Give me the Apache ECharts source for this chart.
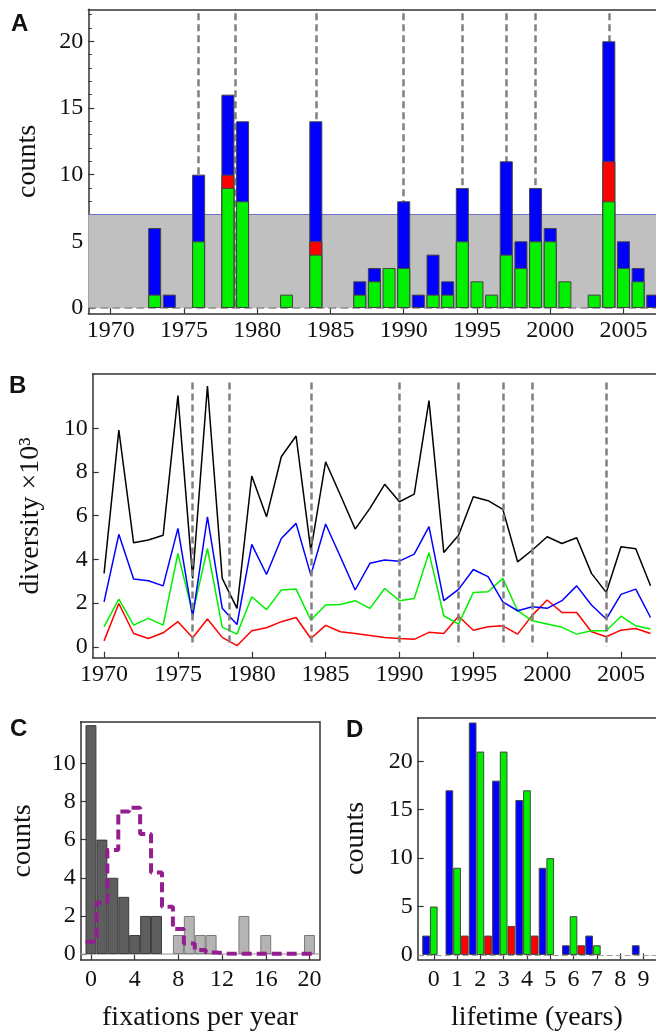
<!DOCTYPE html>
<html>
<head>
<meta charset="utf-8">
<script src="https://cdn.jsdelivr.net/npm/echarts@6/dist/echarts.min.js"></script>
<style>
html, body { margin: 0; padding: 0; background: #fff; }
#chart { width: 656px; height: 1035px; }
</style>
</head>
<body>
<div id="chart"></div>
<script>
// A: counts per year (green / red / blue parts of each stacked bar)
var yearsA = [1970, 1971, 1972, 1973, 1974, 1975, 1976, 1977, 1978, 1979,
              1980, 1981, 1982, 1983, 1984, 1985, 1986, 1987, 1988, 1989,
              1990, 1991, 1992, 1993, 1994, 1995, 1996, 1997, 1998, 1999,
              2000, 2001, 2002, 2003, 2004, 2005, 2006, 2007];
var greenA = [0, 0, 0, 1, 0, 0, 5, 0, 9, 8,  0, 0, 1, 0, 4, 0, 0, 1, 2, 3,
              3, 0, 1, 1, 5, 2, 1, 4, 3, 5,  5, 2, 0, 1, 8, 3, 2, 0];
var redA   = [0, 0, 0, 0, 0, 0, 0, 0, 1, 0,  0, 0, 0, 0, 1, 0, 0, 0, 0, 0,
              0, 0, 0, 0, 0, 0, 0, 0, 0, 0,  0, 0, 0, 0, 3, 0, 0, 0];
var blueA  = [0, 0, 0, 5, 1, 0, 5, 0, 6, 6,  0, 0, 0, 0, 9, 0, 0, 1, 1, 0,
              5, 1, 3, 1, 4, 0, 0, 7, 2, 4,  1, 0, 0, 0, 9, 2, 1, 1];
var thresholdA = 7;
var eventYears = [1976, 1978.5, 1984, 1990, 1994, 1997, 1999, 2004];
var yearTicks = [1970, 1975, 1980, 1985, 1990, 1995, 2000, 2005];
var countTicksA = [0, 5, 10, 15, 20];
var minorTicksA = [0, 1, 2, 3, 4, 5, 6, 7, 8, 9, 10, 11, 12, 13, 14, 15, 16, 17, 18, 19, 20, 21, 22];

// B: diversity x10^3 per year
var yearsB = yearsA;
var totalB = [3.36, 9.92, 4.76, 4.89, 5.11, 11.5, 3.13, 11.94, 3.13, 1.76,
              7.82, 5.95, 8.7, 9.65, 4.4, 8.47, 6.95, 5.39, 6.34, 7.44,
              6.64, 6.99, 11.27, 4.32, 5.11, 6.87, 6.69, 6.29, 3.89, 4.43,
              5.04, 4.73, 4.99, 3.36, 2.49, 4.58, 4.49, 2.79];
var blueB  = [2.06, 5.15, 3.1, 3.02, 2.79, 5.42, 1.37, 5.95, 1.76, 1.02,
              4.69, 3.31, 4.96, 5.65, 3.28, 5.62, 4.12, 2.6, 3.82, 3.97,
              3.92, 4.24, 5.5, 2.11, 2.63, 3.54, 3.21, 2.06, 1.65, 1.83,
              1.76, 2.11, 2.79, 1.91, 1.27, 2.4, 2.64, 1.34];
var greenB = [0.92, 2.18, 0.99, 1.3, 0.99, 4.27, 1.53, 4.5, 0.9, 0.58,
              2.29, 1.7, 2.6, 2.64, 1.22, 1.91, 1.94, 2.11, 1.76, 2.67,
              2.11, 2.21, 4.31, 1.42, 1.04, 2.49, 2.52, 3.13, 1.65, 1.19,
              1.04, 0.89, 0.58, 0.73, 0.73, 1.4, 0.96, 0.81];
var redB   = [0.27, 1.98, 0.61, 0.38, 0.64, 1.15, 0.41, 1.27, 0.43, 0.05,
              0.73, 0.87, 1.15, 1.34, 0.38, 0.98, 0.69, 0.61, 0.52, 0.43,
              0.38, 0.34, 0.66, 0.61, 1.4, 0.76, 0.92, 0.96, 0.58, 1.45,
              2.14, 1.57, 1.57, 0.69, 0.46, 0.76, 0.84, 0.61];
var divTicks = [0, 2, 4, 6, 8, 10];

// C: fixations per year histogram + model
var binsC = [0, 1, 2, 3, 4, 5, 6, 7, 8, 9, 10, 11, 12, 13, 14, 15, 16, 17, 18, 19, 20];
var darkC  = [12, 6, 4, 3, 1, 2, 2, 0, 0, 0, 0, 0, 0, 0, 0, 0, 0, 0, 0, 0, 0];
var lightC = [0, 0, 0, 0, 0, 0, 0, 0, 1, 2, 1, 1, 0, 0, 2, 0, 1, 0, 0, 0, 1];
var modelC = [0.65, 2.69, 5.45, 7.47, 7.67, 6.29, 4.28, 2.48, 1.31, 0.56, 0.21,
              0.08, 0.03, 0.02, 0.02, 0.02, 0.02, 0.02, 0.02, 0.02, 0.02];
var fixTicks = [0, 4, 8, 12, 16, 20];
var countTicksC = [0, 2, 4, 6, 8, 10];

// D: lifetime histogram
var lifeD  = [0, 1, 2, 3, 4, 5, 6, 7, 8, 9];
var blueD  = [2, 17, 24, 18, 16, 9, 1, 2, 0, 1];
var greenD = [5, 9, 21, 21, 17, 10, 4, 1, 0, 0];
var redD   = [0, 2, 2, 3, 2, 0, 1, 0, 0, 0];
var countTicksD = [0, 5, 10, 15, 20];

var ink = '#333';
var serif = 'Liberation Serif';
var cGreen = '#00f000', cBlue = '#0000ff', cRed = '#ff0000';

function pairs(xs, vs) {
    return xs.map(function (x, i) { return [x, vs[i] > 0 ? vs[i] : '-']; });
}
function cumul(lists) {
    return lists[0].map(function (v, i) {
        var s = 0;
        lists.forEach(function (l) { s += l[i]; });
        return s;
    });
}
function onlyWhere(vals, parts) {
    return vals.map(function (v, i) { return parts[i] > 0 ? v : 0; });
}

function mainAxis(o) {
    return Object.assign({
        type: 'value',
        nameLocation: 'middle',
        nameMoveOverlap: false,
        nameTextStyle: { fontFamily: serif, fontSize: 28, color: '#111' },
        axisLine: { show: true, onZero: false, lineStyle: { color: ink, width: 1.5 } },
        axisTick: { show: true, inside: true, length: 6, customValues: o.ticks,
                    lineStyle: { color: ink, width: 1.2 } },
        axisLabel: { show: true, customValues: o.ticks, margin: o.labelMargin || 5,
                     formatter: function (v) { return String(v); },
                     fontFamily: serif, fontSize: 24, color: '#111' },
        splitLine: { show: false }
    }, o);
}
function frameAxis(o) {
    return Object.assign({
        type: 'value',
        axisLine: { show: true, onZero: false, lineStyle: { color: ink, width: 1.5 } },
        axisTick: { show: false }, axisLabel: { show: false }, splitLine: { show: false }
    }, o);
}
function minorAxis(o) {
    return Object.assign({
        type: 'value',
        axisLine: { show: false },
        axisTick: { show: true, inside: true, length: 3.5, customValues: o.ticks,
                    lineStyle: { color: ink, width: 1 } },
        axisLabel: { show: false }, splitLine: { show: false }
    }, o);
}
function eventLines(top) {
    return eventYears.map(function (y) {
        return [{ coord: [y, top] }, { coord: [y, 0] }];
    });
}

var totA = cumul([greenA, redA, blueA]);
var grA = cumul([greenA, redA]);

var chart = echarts.init(document.getElementById('chart'), null, { renderer: 'canvas' });
chart.setOption({
    backgroundColor: '#fff',
    animation: false,
    grid: [
        { left: 88.3, top: 9.3, width: 567.7, height: 304.4, outerBoundsMode: 'none' },
        { left: 92.7, top: 374, width: 563.3, height: 283.7, outerBoundsMode: 'none' },
        { left: 80.7, top: 721.7, width: 238.6, height: 238.3, outerBoundsMode: 'none' },
        { left: 417.7, top: 717.7, width: 238.3, height: 241.6, outerBoundsMode: 'none' }
    ],
    xAxis: [
        mainAxis({ gridIndex: 0, min: 1968.47, max: 2007.22, position: 'bottom', ticks: yearTicks }),
        frameAxis({ gridIndex: 0, min: 1968.47, max: 2007.22, position: 'top' }),
        mainAxis({ gridIndex: 1, min: 1969.23, max: 2007.37, position: 'bottom', ticks: yearTicks }),
        frameAxis({ gridIndex: 1, min: 1969.23, max: 2007.37, position: 'top' }),
        mainAxis({ gridIndex: 2, min: -0.94, max: 20.9, position: 'bottom', ticks: fixTicks,
                   labelMargin: 8, name: 'fixations per year', nameGap: 44 }),
        frameAxis({ gridIndex: 2, min: -0.94, max: 20.9, position: 'top' }),
        mainAxis({ gridIndex: 3, min: -0.69, max: 9.54, position: 'bottom', ticks: lifeD,
                   labelMargin: 8, name: 'lifetime (years)', nameGap: 44 }),
        frameAxis({ gridIndex: 3, min: -0.69, max: 9.54, position: 'top' })
    ],
    yAxis: [
        mainAxis({ gridIndex: 0, min: -0.43, max: 22.4, position: 'left', ticks: countTicksA,
                   name: 'counts', nameGap: 47 }),
        minorAxis({ gridIndex: 0, min: -0.43, max: 22.4, position: 'left', ticks: minorTicksA }),
        mainAxis({ gridIndex: 1, min: -0.5, max: 12.49, position: 'left', ticks: divTicks,
                   name: 'diversity \u00d710\u00b3', nameGap: 48 }),
        mainAxis({ gridIndex: 2, min: -0.31, max: 12.18, position: 'left', ticks: countTicksC,
                   name: 'counts', nameGap: 44 }),
        frameAxis({ gridIndex: 2, min: -0.31, max: 12.18, position: 'right' }),
        mainAxis({ gridIndex: 3, min: -0.45, max: 24.5, position: 'left', ticks: countTicksD,
                   name: 'counts', nameGap: 48 })
    ],
    series: [
        // ---- A ----
        {
            type: 'line', xAxisIndex: 0, yAxisIndex: 0, data: [], z: 1, silent: true,
            markArea: { silent: true, z: 1, itemStyle: { color: '#c0c0c0' },
                        data: [[{ yAxis: 0 }, { yAxis: thresholdA }]] },
            markLine: { silent: true, z: 2, symbol: 'none', label: { show: false },
                        data: [
                            { yAxis: thresholdA, lineStyle: { color: '#6f6fd0', width: 1, type: 'solid' } },
                            { yAxis: 0, lineStyle: { color: '#8a8a8a', width: 1.5, type: [8, 4] } }
                        ] }
        },
        {
            type: 'line', xAxisIndex: 0, yAxisIndex: 0, data: [], z: 2, silent: true,
            markLine: { silent: true, z: 2, symbol: 'none', label: { show: false },
                        lineStyle: { color: '#808080', width: 2.5, type: [7, 4] },
                        data: eventLines(22.1) }
        },
        {
            name: 'blue', type: 'bar', xAxisIndex: 0, yAxisIndex: 0, z: 3,
            barWidth: 13, barGap: '-100%',
            itemStyle: { color: cBlue, borderColor: '#444', borderWidth: 1 },
            data: pairs(yearsA, onlyWhere(totA, blueA))
        },
        {
            name: 'red', type: 'bar', xAxisIndex: 0, yAxisIndex: 0, z: 3,
            barWidth: 13, barGap: '-100%',
            itemStyle: { color: cRed, borderColor: '#444', borderWidth: 1 },
            data: pairs(yearsA, onlyWhere(grA, redA))
        },
        {
            name: 'green', type: 'bar', xAxisIndex: 0, yAxisIndex: 0, z: 3,
            barWidth: 13, barGap: '-100%',
            itemStyle: { color: cGreen, borderColor: '#444', borderWidth: 1 },
            data: pairs(yearsA, greenA)
        },
        // ---- B ----
        {
            type: 'line', xAxisIndex: 2, yAxisIndex: 2, showSymbol: false, z: 3,
            lineStyle: { color: cRed, width: 1.5 },
            data: yearsB.map(function (y, i) { return [y, redB[i]]; })
        },
        {
            type: 'line', xAxisIndex: 2, yAxisIndex: 2, showSymbol: false, z: 3,
            lineStyle: { color: cGreen, width: 1.5 },
            data: yearsB.map(function (y, i) { return [y, greenB[i]]; })
        },
        {
            type: 'line', xAxisIndex: 2, yAxisIndex: 2, showSymbol: false, z: 3,
            lineStyle: { color: cBlue, width: 1.5 },
            data: yearsB.map(function (y, i) { return [y, blueB[i]]; })
        },
        {
            type: 'line', xAxisIndex: 2, yAxisIndex: 2, showSymbol: false, z: 3,
            lineStyle: { color: '#000', width: 1.5 },
            data: yearsB.map(function (y, i) { return [y, totalB[i]]; })
        },
        {
            type: 'line', xAxisIndex: 2, yAxisIndex: 2, data: [], z: 4, silent: true,
            markLine: { silent: true, z: 5, symbol: 'none', label: { show: false },
                        lineStyle: { color: '#808080', width: 2.5, type: [7, 4] },
                        data: eventLines(12.1) }
        },
        // ---- C ----
        {
            type: 'line', xAxisIndex: 4, yAxisIndex: 3, data: [], z: 1, silent: true,
            markLine: { silent: true, z: 1, symbol: 'none', label: { show: false },
                        lineStyle: { color: '#b8b8b8', width: 1.5, type: 'solid' },
                        data: [{ yAxis: 0 }] }
        },
        {
            type: 'bar', xAxisIndex: 4, yAxisIndex: 3, z: 2, barWidth: 10.9, barGap: '-100%',
            itemStyle: { color: '#5e5e5e', borderColor: '#3a3a3a', borderWidth: 1 },
            data: pairs(binsC, darkC)
        },
        {
            type: 'bar', xAxisIndex: 4, yAxisIndex: 3, z: 2, barWidth: 10.9, barGap: '-100%',
            itemStyle: { color: '#b4b4b4', borderColor: '#7a7a7a', borderWidth: 1 },
            data: pairs(binsC, lightC)
        },
        {
            type: 'line', xAxisIndex: 4, yAxisIndex: 3, z: 4, step: 'end', showSymbol: false,
            lineStyle: { color: '#941d8f', width: 4, type: [10, 5] },
            data: binsC.map(function (b, i) { return [b - 0.5, modelC[i]]; })
                .concat([[binsC[binsC.length - 1] + 0.5, modelC[modelC.length - 1]]])
        },
        // ---- D ----
        {
            type: 'line', xAxisIndex: 6, yAxisIndex: 5, data: [], z: 1, silent: true,
            markLine: { silent: true, z: 1, symbol: 'none', label: { show: false },
                        lineStyle: { color: '#a0a0a0', width: 1.2, type: [6, 3] },
                        data: [{ yAxis: 0 }] }
        },
        {
            type: 'bar', xAxisIndex: 6, yAxisIndex: 5, z: 2, barWidth: 7.7, barGap: '0%',
            itemStyle: { color: cBlue, borderColor: '#444', borderWidth: 1 },
            data: pairs(lifeD, blueD)
        },
        {
            type: 'bar', xAxisIndex: 6, yAxisIndex: 5, z: 2, barWidth: 7.7, barGap: '0%',
            itemStyle: { color: cGreen, borderColor: '#444', borderWidth: 1 },
            data: pairs(lifeD, greenD)
        },
        {
            type: 'bar', xAxisIndex: 6, yAxisIndex: 5, z: 2, barWidth: 7.7, barGap: '0%',
            itemStyle: { color: cRed, borderColor: '#444', borderWidth: 1 },
            data: pairs(lifeD, redD)
        }
    ],
    graphic: [
        { type: 'text', left: 11, top: 12, style: { text: 'A', font: 'bold 24px "Liberation Sans"', fill: '#111' } },
        { type: 'text', left: 9, top: 374, style: { text: 'B', font: 'bold 24px "Liberation Sans"', fill: '#111' } },
        { type: 'text', left: 10, top: 717, style: { text: 'C', font: 'bold 24px "Liberation Sans"', fill: '#111' } },
        { type: 'text', left: 346, top: 718, style: { text: 'D', font: 'bold 24px "Liberation Sans"', fill: '#111' } }
    ]
});
</script>
</body>
</html>
